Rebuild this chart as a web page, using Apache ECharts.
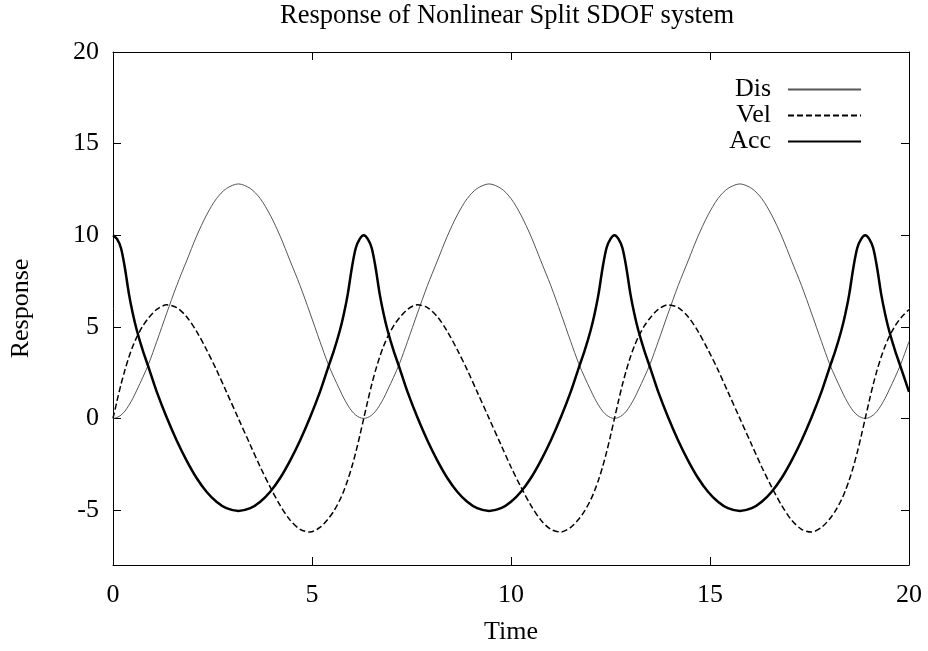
<!DOCTYPE html>
<html>
<head>
<meta charset="utf-8">
<title>Response of Nonlinear Split SDOF system</title>
<script src="https://cdn.jsdelivr.net/npm/echarts@6/dist/echarts.min.js"></script>
<style>
  html, body { margin: 0; padding: 0; background: #fff; }
  #chart { width: 928px; height: 651px; }
</style>
</head>
<body>
<div id="chart"></div>
<script>
// Sample times (s)
const time = [
  0, 0.1, 0.2, 0.3, 0.4, 0.5, 0.6, 0.75, 0.9, 1.1, 1.35, 1.6, 1.85, 2.1, 2.35, 2.6, 2.85, 3.15,
  3.45, 3.7, 3.95, 4.2, 4.45, 4.7, 4.95, 5.2, 5.4, 5.55, 5.7, 5.8, 5.9, 6.0, 6.1, 6.2, 6.3,
  6.4, 6.5, 6.6, 6.7, 6.8, 6.9, 7.05, 7.2, 7.4, 7.65, 7.9, 8.15, 8.4, 8.65, 8.9, 9.15, 9.45,
  9.75, 10.0, 10.25, 10.5, 10.75, 11.0, 11.25, 11.5, 11.7, 11.85, 12.0, 12.1, 12.2, 12.3, 12.4, 12.5, 12.6,
  12.7, 12.8, 12.9, 13.0, 13.1, 13.2, 13.35, 13.5, 13.7, 13.95, 14.2, 14.45, 14.7, 14.95, 15.2, 15.45, 15.75,
  16.05, 16.3, 16.55, 16.8, 17.05, 17.3, 17.55, 17.8, 18.0, 18.15, 18.3, 18.4, 18.5, 18.6, 18.7, 18.8, 18.9,
  19.0, 19.1, 19.2, 19.3, 19.4, 19.5, 19.65, 19.8, 20.0
];

// Displacement
const dis = [
  0, 0.05, 0.18, 0.4, 0.72, 1.1, 1.55, 2.25, 3.0, 4.2, 5.75, 7.25, 8.6, 9.95, 11.1, 12.0, 12.55, 12.8,
  12.55, 12.0, 11.1, 9.95, 8.6, 7.25, 5.75, 4.2, 3.0, 2.25, 1.55, 1.1, 0.72, 0.4, 0.18, 0.05, 0,
  0.05, 0.18, 0.4, 0.72, 1.1, 1.55, 2.25, 3.0, 4.2, 5.75, 7.25, 8.6, 9.95, 11.1, 12.0, 12.55, 12.8,
  12.55, 12.0, 11.1, 9.95, 8.6, 7.25, 5.75, 4.2, 3.0, 2.25, 1.55, 1.1, 0.72, 0.4, 0.18, 0.05, 0,
  0.05, 0.18, 0.4, 0.72, 1.1, 1.55, 2.25, 3.0, 4.2, 5.75, 7.25, 8.6, 9.95, 11.1, 12.0, 12.55, 12.8,
  12.55, 12.0, 11.1, 9.95, 8.6, 7.25, 5.75, 4.2, 3.0, 2.25, 1.55, 1.1, 0.72, 0.4, 0.18, 0.05, 0,
  0.05, 0.18, 0.4, 0.72, 1.1, 1.55, 2.25, 3.0, 4.2
];

// Velocity
const vel = [
  0, 0.95, 1.85, 2.65, 3.35, 3.95, 4.45, 5.05, 5.5, 5.95, 6.2, 6.05, 5.55, 4.75, 3.75, 2.65, 1.45, 0,
  -1.45, -2.65, -3.75, -4.75, -5.55, -6.05, -6.2, -5.95, -5.5, -5.05, -4.45, -3.95, -3.35, -2.65, -1.85, -0.95, 0,
  0.95, 1.85, 2.65, 3.35, 3.95, 4.45, 5.05, 5.5, 5.95, 6.2, 6.05, 5.55, 4.75, 3.75, 2.65, 1.45, 0,
  -1.45, -2.65, -3.75, -4.75, -5.55, -6.05, -6.2, -5.95, -5.5, -5.05, -4.45, -3.95, -3.35, -2.65, -1.85, -0.95, 0,
  0.95, 1.85, 2.65, 3.35, 3.95, 4.45, 5.05, 5.5, 5.95, 6.2, 6.05, 5.55, 4.75, 3.75, 2.65, 1.45, 0,
  -1.45, -2.65, -3.75, -4.75, -5.55, -6.05, -6.2, -5.95, -5.5, -5.05, -4.45, -3.95, -3.35, -2.65, -1.85, -0.95, 0,
  0.95, 1.85, 2.65, 3.35, 3.95, 4.45, 5.05, 5.5, 5.95
];

// Acceleration
const acc = [
  10, 9.8, 9.3, 8.2, 6.8, 5.7, 4.8, 3.7, 2.75, 1.45, 0.05, -1.2, -2.3, -3.25, -4.0, -4.55, -4.9, -5.05,
  -4.9, -4.55, -4.0, -3.25, -2.3, -1.2, 0.05, 1.45, 2.75, 3.7, 4.8, 5.7, 6.8, 8.2, 9.3, 9.8, 10,
  9.8, 9.3, 8.2, 6.8, 5.7, 4.8, 3.7, 2.75, 1.45, 0.05, -1.2, -2.3, -3.25, -4.0, -4.55, -4.9, -5.05,
  -4.9, -4.55, -4.0, -3.25, -2.3, -1.2, 0.05, 1.45, 2.75, 3.7, 4.8, 5.7, 6.8, 8.2, 9.3, 9.8, 10,
  9.8, 9.3, 8.2, 6.8, 5.7, 4.8, 3.7, 2.75, 1.45, 0.05, -1.2, -2.3, -3.25, -4.0, -4.55, -4.9, -5.05,
  -4.9, -4.55, -4.0, -3.25, -2.3, -1.2, 0.05, 1.45, 2.75, 3.7, 4.8, 5.7, 6.8, 8.2, 9.3, 9.8, 10,
  9.8, 9.3, 8.2, 6.8, 5.7, 4.8, 3.7, 2.75, 1.45
];

const seriesNames = ['Dis', 'Vel', 'Acc'];
const xTicks = [0, 5, 10, 15, 20];
const yTicks = [-5, 0, 5, 10, 15, 20];

const FONT = '"Liberation Serif", "Times New Roman", serif';
const pairs = (ys) => time.map((t, i) => [t, ys[i]]);

const axisLineStyle = { show: true, onZero: false, lineStyle: { color: '#000', width: 1 } };
const tickStyle = { show: true, inside: true, length: 8, lineStyle: { color: '#000', width: 1 } };

const chart = echarts.init(document.getElementById('chart'), null, { renderer: 'canvas' });

function legendFor(name, top) {
  return {
    data: [name],
    orient: 'vertical',
    align: 'right',
    right: 66,
    top: top,
    padding: 0,
    itemWidth: 73,
    itemHeight: 12,
    selectedMode: false,
    itemStyle: { opacity: 0 },
    textStyle: { fontFamily: FONT, fontSize: 26, color: '#000', padding: [0, 12, 0, 0] }
  };
}

chart.setOption({
  animation: false,
  backgroundColor: '#fff',
  title: {
    text: 'Response of Nonlinear Split SDOF system',
    left: 280,
    top: 3,
    padding: 0,
    textStyle: { fontFamily: FONT, fontSize: 26.5, fontWeight: 'normal', color: '#000' }
  },
  legend: [legendFor('Dis', 76.5), legendFor('Vel', 102.5), legendFor('Acc', 128.5)],
  grid: { left: 112, right: 19, top: 52, bottom: 86, containLabel: false },
  xAxis: [
    {
      type: 'value', min: 0, max: 20, interval: 5,
      name: 'Time', nameLocation: 'middle', nameGap: 54,
      nameTextStyle: { fontFamily: FONT, fontSize: 26, color: '#000' },
      axisLine: axisLineStyle, axisTick: tickStyle,
      axisLabel: { fontFamily: FONT, fontSize: 26, color: '#000', margin: 17,
        customValues: xTicks },
      splitLine: { show: false }
    },
    {
      type: 'value', min: 0, max: 20, interval: 5, position: 'top',
      axisLine: axisLineStyle, axisTick: tickStyle,
      axisLabel: { show: false }, splitLine: { show: false }
    }
  ],
  yAxis: [
    {
      type: 'value', min: -8, max: 20,
      name: 'Response', nameLocation: 'middle', nameGap: 79,
      nameTextStyle: { fontFamily: FONT, fontSize: 26, color: '#000' },
      axisLine: axisLineStyle,
      axisTick: Object.assign({}, tickStyle, { customValues: yTicks }),
      axisLabel: { fontFamily: FONT, fontSize: 26, color: '#000', margin: 14,
        customValues: yTicks },
      splitLine: { show: false }
    },
    {
      type: 'value', min: -8, max: 20, position: 'right',
      axisLine: axisLineStyle,
      axisTick: Object.assign({}, tickStyle, { customValues: yTicks }),
      axisLabel: { show: false }, splitLine: { show: false }
    }
  ],
  series: [
    {
      name: seriesNames[0], type: 'line', data: pairs(dis), symbol: 'none',
      smooth: 0.3, lineStyle: { color: '#555', width: 1 }, itemStyle: { color: '#555' }
    },
    {
      name: seriesNames[1], type: 'line', data: pairs(vel), symbol: 'none',
      smooth: 0.3, lineStyle: { color: '#000', width: 1.5, type: [6, 3] }, itemStyle: { color: '#000' }
    },
    {
      name: seriesNames[2], type: 'line', data: pairs(acc), symbol: 'none',
      smooth: 0.3, lineStyle: { color: '#000', width: 2.5 }, itemStyle: { color: '#000' }
    }
  ]
});
</script>
</body>
</html>
